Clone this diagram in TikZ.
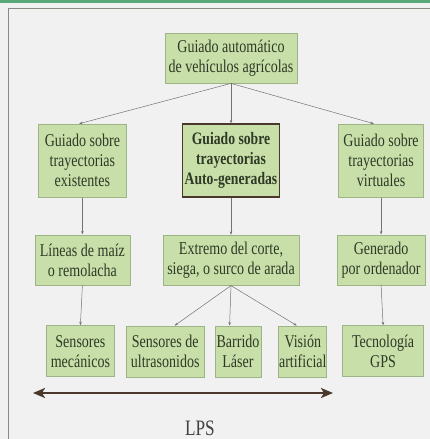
\documentclass[tikz,border=0pt]{standalone}
\usepackage{fontspec}
\setmainfont{Liberation Serif}[FakeStretch=0.78]
\usepackage{tikz}
\usetikzlibrary{arrows.meta,shapes,positioning}

\definecolor{fondo}{HTML}{F1F1F1}
\definecolor{verdecaja}{HTML}{C9DFA9}
\definecolor{bordecaja}{HTML}{9CB486}
\definecolor{textocaja}{HTML}{2E3A26}
\definecolor{marron}{HTML}{4A382C}
\definecolor{franja}{HTML}{58A878}
\definecolor{marco}{HTML}{8A8A82}

\begin{document}
\begin{tikzpicture}[x=1pt, y=-1pt]
\tikzstyle{caja}=[draw=bordecaja, line width=0.8pt, fill=verdecaja, text=textocaja, align=center, inner xsep=1pt, inner ysep=2pt, font=\fontsize{18}{20}\selectfont]
\tikzstyle{cajaprincipal}=[caja, draw=marron, line width=1.4pt, font=\fontsize{17.5}{20}\selectfont\bfseries]
\tikzstyle{conector}=[draw=black!55, line width=0.5pt, -{Stealth[length=3.5pt, width=2.6pt]}]
% fondo y marco
\fill[fondo] (0,0) rectangle (430,439);
\useasboundingbox (0,0) rectangle (430,439);
\fill[franja] (0,0) rectangle (430,2.5);
\draw[marco, line width=1.4pt] (430,8.5) -- (8.5,8.5) -- (8.5,439);

\node[caja, minimum width=132pt, minimum height=50pt] (guiado) at (231,58) {Guiado automático\\de vehículos agrícolas};

\node[cajaprincipal, minimum width=97pt, minimum height=73pt] (auto) [below=40pt of guiado] {Guiado sobre\\trayectorias\\Auto-generadas};
\node[caja, minimum width=88pt, minimum height=73pt] (existentes) [left=55pt of auto] {Guiado sobre\\trayectorias\\existentes};
\node[caja, minimum width=85pt, minimum height=73pt] (virtuales) [right=58pt of auto] {Guiado sobre\\trayectorias\\virtuales};

\node[caja, minimum width=95pt, minimum height=50pt] (maiz) [below=37pt of existentes] {Líneas de maíz\\o remolacha};
\node[caja, minimum width=136pt, minimum height=50pt] (extremo) [below=37pt of auto] {Extremo del corte,\\siega, o surco de arada};
\node[caja, minimum width=88pt, minimum height=50pt] (ordenador) [below=37pt of virtuales] {Generado\\por ordenador};

\node[caja, minimum width=68pt, minimum height=51pt] (mecanicos) [below=40pt of maiz, xshift=-2pt] {Sensores\\mecánicos};
\node[caja, minimum width=46pt, minimum height=51pt] (laser) [below=40pt of extremo, xshift=7pt] {Barrido\\Láser};
\node[caja, minimum width=78pt, minimum height=51pt] (ultrasonidos) [left=10pt of laser] {Sensores de\\ultrasonidos};
\node[caja, minimum width=48pt, minimum height=51pt, inner xsep=0pt] (vision) [right=17pt of laser] {Visión\\artificial};
\node[caja, minimum width=81pt, minimum height=51pt] (gps) [below=40pt of ordenador, xshift=2pt] {Tecnología\\GPS};

\draw[conector] (guiado.south) -- (existentes.95);
\draw[conector] (guiado.south) -- (auto.north);
\draw[conector] (guiado.south) -- (virtuales.101);
\draw[conector] (existentes.south) -- (maiz.north);
\draw[conector] (auto.south) -- (extremo.north);
\draw[conector] (virtuales.south) -- (ordenador.north);
\draw[conector] (maiz.south) -- (mecanicos.north);
\draw[conector] (extremo.south) -- (ultrasonidos.70);
\draw[conector] (extremo.south) -- (laser.108);
\draw[conector] (extremo.south) -- (vision.103);
\draw[conector] (ordenador.south) -- (gps.north);

% rango LPS
\coordinate (lpsizq) at (33,393);
\coordinate (lpsder) at (333,393);
\draw[marron, line width=2.4pt, {Stealth[length=12pt, width=10pt, inset=3pt]}-{Stealth[length=12pt, width=10pt, inset=3pt]}] (lpsizq) -- (lpsder);
\node[text=black!75, font=\fontsize{22}{24}\selectfont] (lps) at (200,428) {LPS};
\end{tikzpicture}
\end{document}
